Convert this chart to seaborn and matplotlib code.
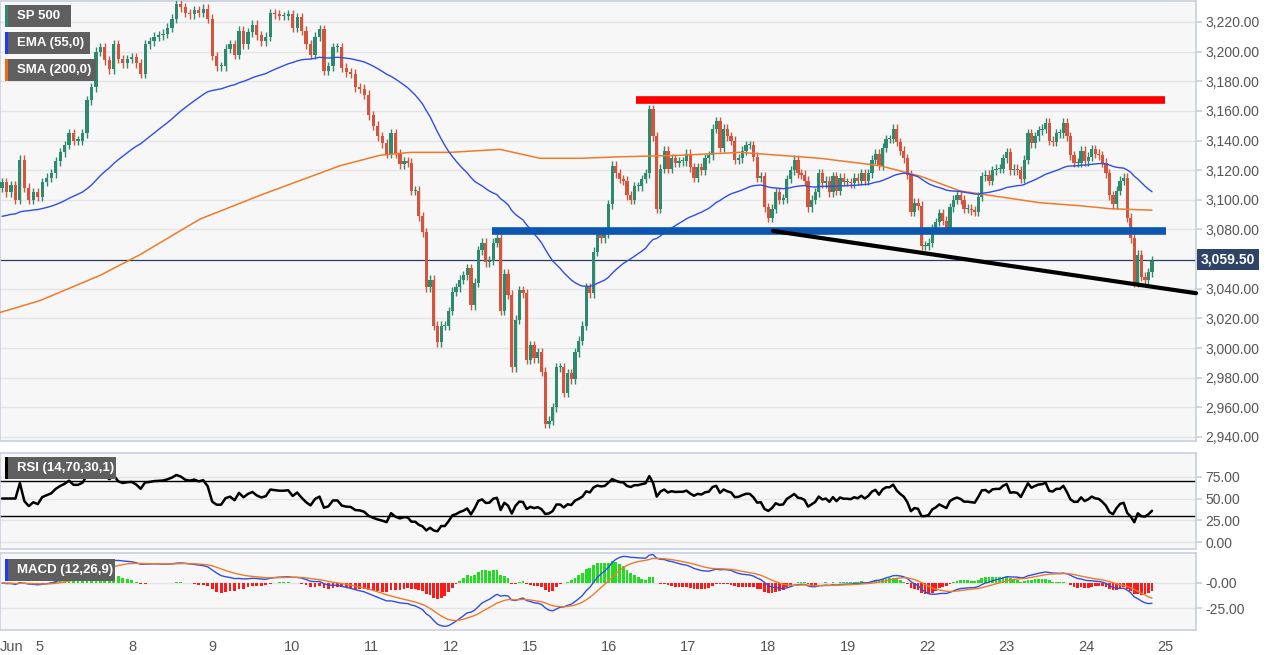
import numpy as np
import pandas as pd
import matplotlib
matplotlib.use("Agg")
import matplotlib.pyplot as plt
from matplotlib.patches import Rectangle
import seaborn as sns

# ---- data (hourly closes, three stretches) ----
seg_a = [3112,3105,3110,3100,3127,3108,3100,3105,3102,3112,3115,3118,3126,3132,3137,3145,3140,3140,3145,3167,
         3176,3200,3203,3194,3188,3205,3195,3192,3195,3196,3192,3185,3205,3207,3210,3211,3212,3216,3222,3232,
         3230,3226,3225,3228,3226,3229,3222,3197,3190,3190,3202,3205,3198,3214,3205,3213,3218,3211,3207,3210,
         3226,3225,3224,3224,3225,3216,3223,3214,3205,3198,3210,3215,3187,3190,3203,3203,3189,3186,3185,3176,
         3175,3171,3157,3150,3143,3138,3131,3145,3131,3124]
seg_b = [3126,3125,3106,3106,3089,3078,3041,3046,3015,3004,3015,3015,3025,3038,3041,3046,3049,3054,3029,3044,
         3066,3071,3058,3059,3071,3074,3025,3050,3036,2987,3019,3039,3037,2992,3002,2993,2997,2984,2949,2951,
         2960,2987,2987,2970,2983,2979,2997,3005,3015,3041,3037,3065,3077,3074,3077,3097,3123,3118,3114,3113,
         3103,3100,3109,3109,3114,3118,3161,3143,3094,3121,3133,3121,3128,3125,3126,3126,3131,3122,3115,3122,
         3120,3128,3130,3148,3153,3135,3148,3143,3140,3127,3128,3133,3137,3137,3129,3115,3116,3095,3088,3094,
         3105,3100,3101,3114,3120,3127,3118]
seg_c = [3117,3113,3095,3100,3105,3118,3111,3113,3105,3116,3106,3115,3112,3112,3111,3115,3113,3118,3113,3118,
         3127,3131,3123,3135,3141,3141,3148,3139,3133,3128,3117,3092,3098,3096,3069,3069,3071,3081,3085,3091,
         3086,3081,3095,3100,3103,3100,3094,3094,3093,3092,3102,3116,3117,3113,3120,3121,3121,3128,3132,3120,
         3121,3120,3114,3127,3145,3138,3143,3147,3148,3152,3140,3139,3145,3145,3152,3143,3130,3125,3125,3133,
         3126,3129,3134,3131,3130,3125,3118,3103,3097,3106,3113,3115,3088,3074,3044,3063,3048,3046,3051,3059]
seg_spans = [(2, 400), (404, 798), (801, 1152)]   # time span of each stretch (chart units)
first_open = 3108
ema_seed = 3088

sma_x = [0,40,100,140,200,260,300,340,380,410,450,500,540,580,620,680,740,780,820,880,920,960,1000,1040,1080,1110,1152]
sma_y = [3024,3032,3049,3063,3087,3103,3113,3123,3130,3132,3132,3134,3128,3128,3129,3130,3132,3130,3128,3123,3116,3106,3102,3098,3096,3094,3093]

day_pos = [12,40,132,212,292,371,451,530,609,688,768,848,927,1006,1086,1165]
day_lab = ["Jun","5","8","9","10","11","12","15","16","17","18","19","22","23","24","25"]

resistance = (636, 1165, 3167)
support = (492, 1166, 3079)
trend = ((773, 3079), (1196, 3037))
last_price = 3059.50

# ---- build frame ----
xs, cs = [], []
for seg, (a, b) in zip([seg_a, seg_b, seg_c], seg_spans):
    xs += list(np.linspace(a, b, len(seg)))
    cs += seg
df = pd.DataFrame({"t": xs, "close": cs})
df["open"] = df["close"].shift(1).fillna(first_open)
hi = np.maximum(df.open, df.close) + 3
lo = np.minimum(df.open, df.close) - 3

ema = []
e = ema_seed
for c in df.close:
    e = e + 2 / 56 * (c - e)
    ema.append(e)
df["ema"] = ema

d = df.close.diff().fillna(0)
up = d.clip(lower=0).ewm(alpha=1/14, adjust=False).mean()
dn = (-d.clip(upper=0)).ewm(alpha=1/14, adjust=False).mean()
df["rsi"] = 100 - 100 / (1 + up / dn.replace(0, 1e-9))
df.loc[:3, "rsi"] = 50
m = df.close.ewm(span=12, adjust=False).mean() - df.close.ewm(span=26, adjust=False).mean()
sig = m.ewm(span=9, adjust=False).mean()
df["macd"], df["sig"], df["hist"] = m, sig, m - sig

# ---- figure ----
sns.set_theme(style="white")
plt.rcParams["font.family"] = ["Liberation Sans", "DejaVu Sans"]
W, H = 1269, 655
fig = plt.figure(figsize=(W/100, H/100), dpi=100)
fig.patch.set_facecolor("white")
def axpx(top, bottom):
    return fig.add_axes([0, 1 - bottom/H, 1196/W, (bottom-top)/H])
ax = axpx(1, 441)
axr = axpx(453, 549)
axm = axpx(553, 630)
bg = "#f7f7f7"; grid = "#e4e4e6"; spine = "#c9d0e0"; tc = "#555555"
for a in (ax, axr, axm):
    a.set_facecolor(bg)
    for s in a.spines.values():
        s.set_color(spine)
    a.set_xlim(0, 1196)
    a.yaxis.tick_right()
    a.tick_params(axis="y", colors=tc, labelsize=10, length=4, color=spine, pad=3)
    a.grid(axis="y", color=grid, lw=1)
    a.set_axisbelow(True)

# main
ticks = [v for v in np.arange(2940, 3221, 20) if v != 3060]
ax.set_ylim(2937.3, 3234.1)
ax.set_yticks(ticks)
ax.set_yticklabels([f"{v:,.2f}" for v in ticks])
ax.set_xticks([])
green, red = "#2d8a6e", "#d4553d"
colors = np.where(df.close >= df.open, green, red)
ax.vlines(df.t, lo, hi, colors=colors, lw=1.0, zorder=3)
ax.bar(df.t, (df.close - df.open).abs().clip(lower=0.7), bottom=np.minimum(df.open, df.close),
       width=3.2, color=colors, edgecolor="none", zorder=4)
sns.lineplot(x=sma_x, y=sma_y, ax=ax, color="#f07a2a", lw=1.1, zorder=5)
sns.lineplot(data=df, x="t", y="ema", ax=ax, color="#2f4de8", lw=1.0, zorder=5)
ax.axhline(last_price, color="#2a3f5f", lw=0.9, zorder=2)
ax.hlines(resistance[2], resistance[0], resistance[1], color="#ff0000", lw=5.5, zorder=6)
ax.hlines(support[2], support[0], support[1], color="#0b56b0", lw=5.5, zorder=6)
ax.plot([trend[0][0], trend[1][0]], [trend[0][1], trend[1][1]], color="black", lw=3, zorder=6, clip_on=False)
ax.set_xlabel(""); ax.set_ylabel("")
ax.text(1.004, last_price, f"{last_price:,.2f}", transform=ax.get_yaxis_transform(), ha="left", va="center",
        color="white", fontsize=10, fontweight="bold",
        bbox=dict(boxstyle="square,pad=0.25", fc="#2d4466", ec="none"), zorder=10, clip_on=False)

# RSI
axr.set_ylim(-8, 102.3)
axr.set_yticks([0, 25, 50, 75])
axr.set_yticklabels(["0.00", "25.00", "50.00", "75.00"])
axr.set_xticks([])
axr.axhline(70, color="black", lw=1)
axr.axhline(30, color="black", lw=1)
sns.lineplot(data=df, x="t", y="rsi", ax=axr, color="black", lw=1.8)
axr.set_xlabel(""); axr.set_ylabel("")

# MACD
axm.set_ylim(-47, 30)
axm.set_yticks([0, -25])
axm.set_yticklabels(["-0.00", "-25.00"])
hc = np.where(df["hist"] >= 0, "#22dd22", "#ff1a1a")
axm.bar(df.t, df["hist"] * 1.5, width=2.8, color=hc, edgecolor="none", zorder=3)
sns.lineplot(data=df, x="t", y="macd", ax=axm, color="#2f4de8", lw=1.0, zorder=4)
sns.lineplot(data=df, x="t", y="sig", ax=axm, color="#f07a2a", lw=1.0, zorder=4)
axm.set_xticks(day_pos)
axm.set_xticklabels(day_lab)
axm.tick_params(axis="x", colors=tc, labelsize=10.5, length=3, color=spine, pad=4)
axm.set_xlabel(""); axm.set_ylabel("")

# legend boxes
def box(x0, y0, w, h, txt, strip):
    fig.patches.append(Rectangle((x0/W, 1-(y0+h)/H), w/W, h/H, transform=fig.transFigure, fc="#5f5f5f", ec="none", zorder=20))
    fig.patches.append(Rectangle((x0/W, 1-(y0+h)/H), 3/W, h/H, transform=fig.transFigure, fc=strip, ec="none", zorder=21))
    fig.text((x0+12)/W, 1-(y0+h/2)/H, txt, color="white", fontsize=9.5, fontweight="bold", va="center", ha="left", zorder=22)
box(5, 5, 66, 22, "SP 500", green)
box(5, 32, 85, 22, "EMA (55,0)", "#1a3cff")
box(5, 59, 91, 22, "SMA (200,0)", "#f06a10")
box(5, 457, 111, 22, "RSI (14,70,30,1)", "black")
box(5, 559, 110, 22, "MACD (12,26,9)", "#1a3cff")

fig.savefig("out.png", dpi=100, facecolor="white")
